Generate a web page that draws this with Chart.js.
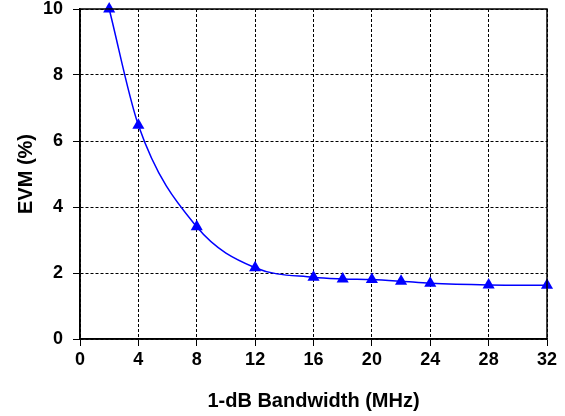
<!DOCTYPE html>
<html>
<head>
<meta charset="utf-8">
<script src="https://cdn.jsdelivr.net/npm/chart.js@4"></script>
<style>
  html, body { margin: 0; padding: 0; background: #fff; }
  #wrap { width: 565px; height: 416px; }
</style>
</head>
<body>
<div id="wrap"><canvas id="chart-evm"></canvas></div>
<script>
var bandwidth = [2, 4, 8, 12, 16, 18, 20, 22, 24, 28, 32];
var evm = [10, 6.48, 3.4, 2.16, 1.87, 1.82, 1.8, 1.75, 1.69, 1.64, 1.63];
var xTitle = '1-dB Bandwidth (MHz)';
var yTitle = 'EVM (%)';

(function() {
    var tickFont = { family: 'Liberation Sans, Arial, sans-serif', size: 18, weight: 'bold', lineHeight: 1.2 };
    var titleFont = { family: 'Liberation Sans, Arial, sans-serif', size: 20, weight: 'bold', lineHeight: 1.2 };

    // solid box round the plot area
    var frame = {
        id: 'frame',
        afterDatasetsDraw: function(chart) {
            var a = chart.chartArea, ctx = chart.ctx;
            ctx.save();
            ctx.strokeStyle = '#000';
            ctx.lineWidth = 1.5;
            ctx.strokeRect(a.left, a.top, a.right - a.left, a.bottom - a.top);
            ctx.restore();
        }
    };

    var points = bandwidth.map(function(b, i) { return { x: b, y: evm[i] }; });

    new Chart(document.getElementById('chart-evm').getContext('2d'), {
        type: 'line',
        data: {
            datasets: [{
                data: points,
                borderColor: '#0000ff',
                backgroundColor: '#0000ff',
                borderWidth: 1.5,
                cubicInterpolationMode: 'monotone',
                pointStyle: 'triangle',
                pointRadius: 7,
                pointBorderWidth: 0,
                clip: false
            }]
        },
        options: {
            responsive: true,
            maintainAspectRatio: false,
            animation: false,
            layout: { padding: { top: 9, right: 18, left: 10, bottom: 3 } },
            plugins: { legend: { display: false }, tooltip: { enabled: false } },
            scales: {
                x: {
                    type: 'linear', min: 0, max: 32,
                    afterFit: function(s) { s.height = 74; s.paddingLeft = 0; s.paddingRight = 0; },
                    ticks: { stepSize: 4, color: '#000', font: tickFont, padding: 3 },
                    grid: { color: '#000', lineWidth: 1, tickLength: 7, tickColor: '#000' },
                    border: { dash: [3, 2], color: '#000', width: 1.5 },
                    title: { display: true, text: xTitle, color: '#000', font: titleFont, padding: { top: 18, bottom: 0 } }
                },
                y: {
                    min: 0, max: 10,
                    afterFit: function(s) { s.width = 70; s.paddingTop = 0; s.paddingBottom = 0; },
                    ticks: { stepSize: 2, color: '#000', font: tickFont, padding: 10 },
                    grid: { color: '#000', lineWidth: 1, tickLength: 7, tickColor: '#000' },
                    border: { dash: [3, 2], color: '#000', width: 1.5 },
                    title: { display: true, text: yTitle, color: '#000', font: titleFont, padding: { top: 4, bottom: 5 } }
                }
            }
        },
        plugins: [frame]
    });
})();
</script>
</body>
</html>
